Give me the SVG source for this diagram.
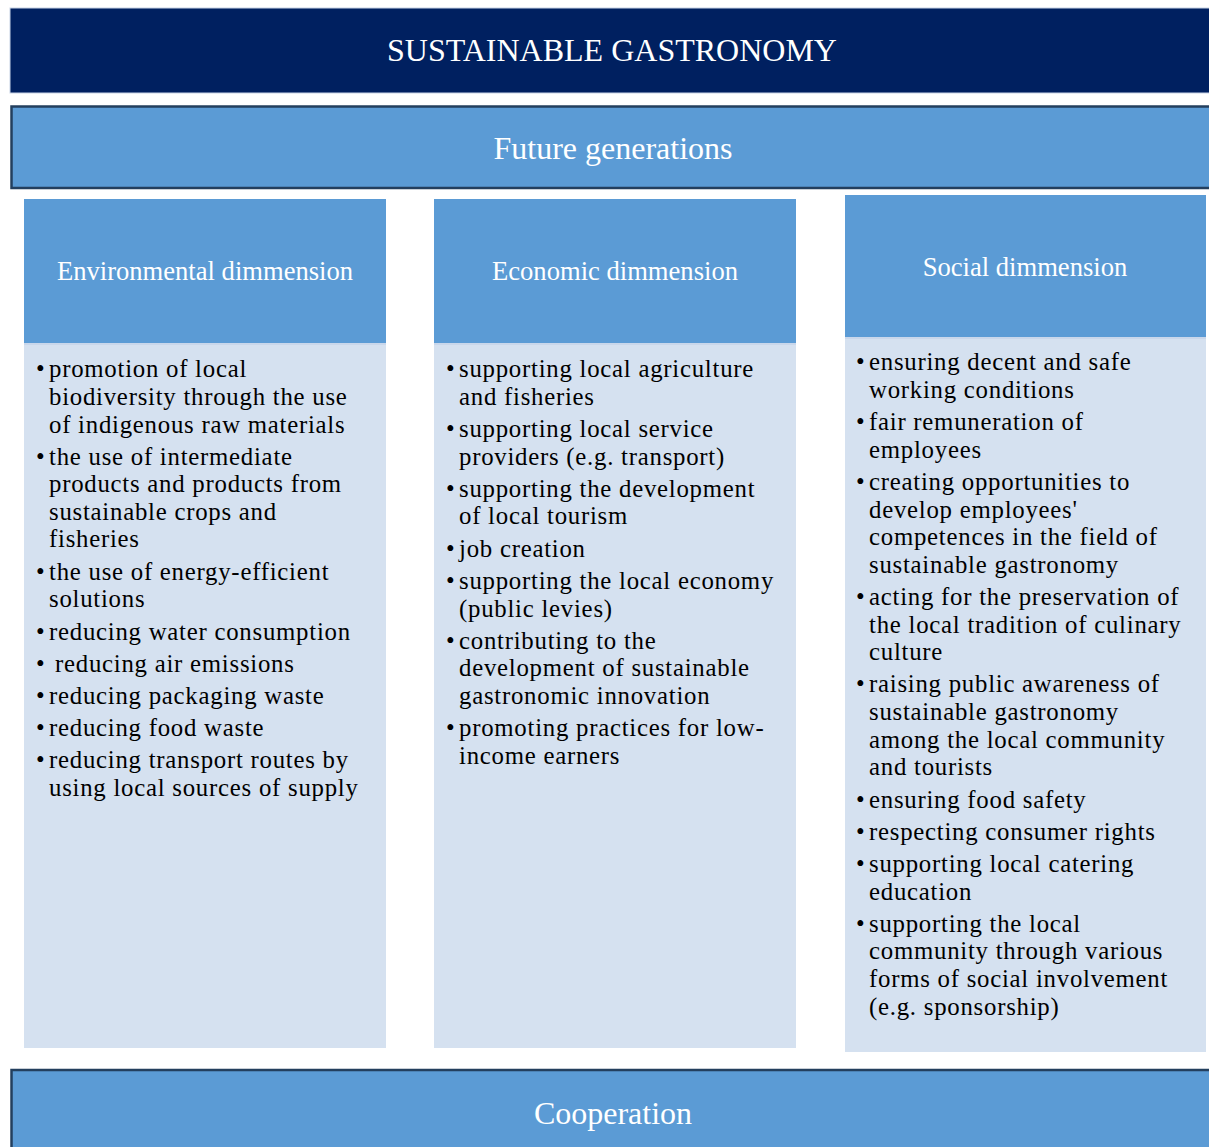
<svg xmlns="http://www.w3.org/2000/svg" width="1209" height="1147" viewBox="0 0 1209 1147">
<style>
.band{fill:#5B9BD5;stroke:#233F5E;stroke-width:2.5}
.hdr{fill:#5B9BD5}
.body{fill:#D5E1F0}
.sep{stroke:#C9D7EB;stroke-width:2}
.ttl{font-family:"Liberation Serif","Times New Roman",serif;fill:#FFFFFF;text-anchor:middle}
.t{font-family:"Liberation Serif","Times New Roman",serif;font-size:24.8px;letter-spacing:0.75px;fill:#000000}
</style>
<rect width="1209" height="1147" fill="#FFFFFF"/>
<g id="title">
<rect x="10" y="8" width="1210" height="85" fill="#002060" stroke="#C8D3E6" stroke-width="1"/>
<text class="ttl" x="612" y="61" font-size="32">SUSTAINABLE GASTRONOMY</text>
</g>
<g id="future">
<rect class="band" x="11.5" y="106.5" width="1210" height="81.5"/>
<text class="ttl" x="613" y="159" font-size="32">Future generations</text>
</g>
<g id="environmental">
<rect class="hdr" x="24" y="199" width="362" height="144"/>
<rect class="body" x="24" y="343" width="362" height="705"/>
<line class="sep" x1="24" y1="344" x2="386" y2="344"/>
<text class="ttl" x="205" y="280" font-size="26.6">Environmental dimmension</text>
<g class="t">
<text x="36" y="377">•</text><text x="49" y="377">promotion of local</text>
<text x="49" y="405">biodiversity through the use</text>
<text x="49" y="433">of indigenous raw materials</text>
<text x="36" y="465">•</text><text x="49" y="465">the use of intermediate</text>
<text x="49" y="492">products and products from</text>
<text x="49" y="520">sustainable crops and</text>
<text x="49" y="547">fisheries</text>
<text x="36" y="580">•</text><text x="49" y="580">the use of energy-efficient</text>
<text x="49" y="607">solutions</text>
<text x="36" y="640">•</text><text x="49" y="640">reducing water consumption</text>
<text x="36" y="672">•</text><text x="55" y="672">reducing air emissions</text>
<text x="36" y="704">•</text><text x="49" y="704">reducing packaging waste</text>
<text x="36" y="736">•</text><text x="49" y="736">reducing food waste</text>
<text x="36" y="768">•</text><text x="49" y="768">reducing transport routes by</text>
<text x="49" y="796">using local sources of supply</text>
</g>
</g>
<g id="economic">
<rect class="hdr" x="434" y="199" width="362" height="144"/>
<rect class="body" x="434" y="343" width="362" height="705"/>
<line class="sep" x1="434" y1="344" x2="796" y2="344"/>
<text class="ttl" x="615" y="280" font-size="26.6">Economic dimmension</text>
<g class="t">
<text x="446" y="377">•</text><text x="459" y="377">supporting local agriculture</text>
<text x="459" y="405">and fisheries</text>
<text x="446" y="437">•</text><text x="459" y="437">supporting local service</text>
<text x="459" y="465">providers (e.g. transport)</text>
<text x="446" y="497">•</text><text x="459" y="497">supporting the development</text>
<text x="459" y="524">of local tourism</text>
<text x="446" y="557">•</text><text x="459" y="557">job creation</text>
<text x="446" y="589">•</text><text x="459" y="589">supporting the local economy</text>
<text x="459" y="617">(public levies)</text>
<text x="446" y="649">•</text><text x="459" y="649">contributing to the</text>
<text x="459" y="676">development of sustainable</text>
<text x="459" y="704">gastronomic innovation</text>
<text x="446" y="736">•</text><text x="459" y="736">promoting practices for low-</text>
<text x="459" y="764">income earners</text>
</g>
</g>
<g id="social">
<rect class="hdr" x="845" y="195" width="361" height="142"/>
<rect class="body" x="845" y="337" width="361" height="715"/>
<line class="sep" x1="845" y1="338" x2="1206" y2="338"/>
<text class="ttl" x="1025" y="276" font-size="26.6">Social dimmension</text>
<g class="t">
<text x="856" y="370">•</text><text x="869" y="370">ensuring decent and safe</text>
<text x="869" y="398">working conditions</text>
<text x="856" y="430">•</text><text x="869" y="430">fair remuneration of</text>
<text x="869" y="458">employees</text>
<text x="856" y="490">•</text><text x="869" y="490">creating opportunities to</text>
<text x="869" y="518">develop employees'</text>
<text x="869" y="545">competences in the field of</text>
<text x="869" y="573">sustainable gastronomy</text>
<text x="856" y="605">•</text><text x="869" y="605">acting for the preservation of</text>
<text x="869" y="633">the local tradition of culinary</text>
<text x="869" y="660">culture</text>
<text x="856" y="692">•</text><text x="869" y="692">raising public awareness of</text>
<text x="869" y="720">sustainable gastronomy</text>
<text x="869" y="748">among the local community</text>
<text x="869" y="775">and tourists</text>
<text x="856" y="808">•</text><text x="869" y="808">ensuring food safety</text>
<text x="856" y="840">•</text><text x="869" y="840">respecting consumer rights</text>
<text x="856" y="872">•</text><text x="869" y="872">supporting local catering</text>
<text x="869" y="900">education</text>
<text x="856" y="932">•</text><text x="869" y="932">supporting the local</text>
<text x="869" y="959">community through various</text>
<text x="869" y="987">forms of social involvement</text>
<text x="869" y="1015">(e.g. sponsorship)</text>
</g>
</g>
<g id="cooperation">
<rect class="band" x="11.5" y="1070" width="1210" height="100"/>
<text class="ttl" x="613" y="1124" font-size="32">Cooperation</text>
</g>
<g id="connectors"></g>
</svg>
